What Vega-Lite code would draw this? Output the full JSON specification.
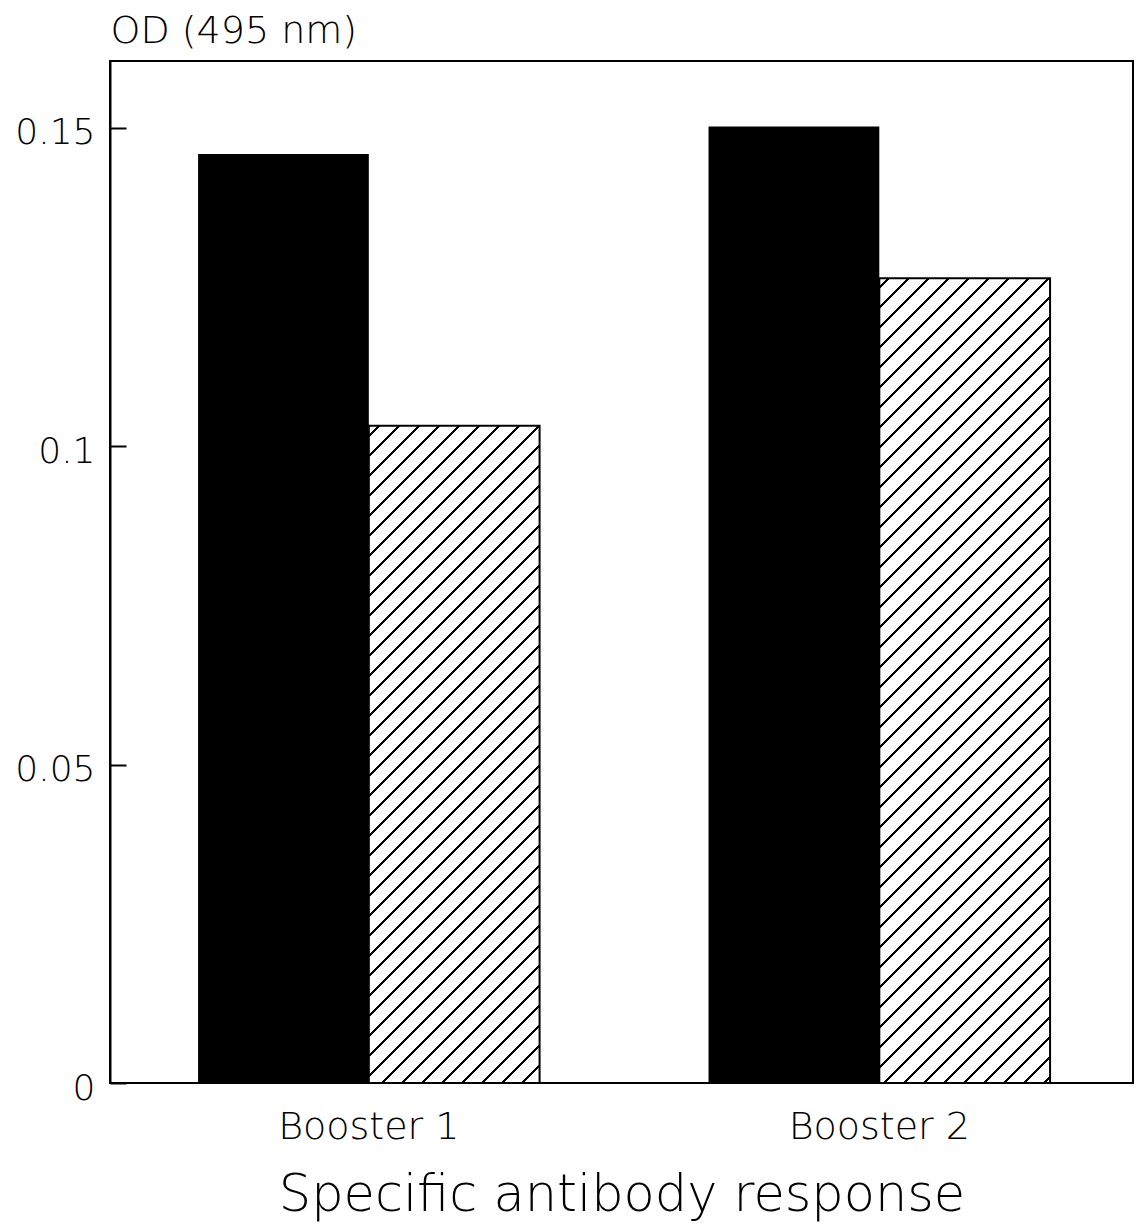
{
"$schema": "https://vega.github.io/schema/vega-lite/v6.json",
"autosize": {"type": "none"},
"padding": {"left": 110, "top": 61, "right": 5, "bottom": 145},
"width": 1023,
"height": 1022,
"background": "white",
"config": {
  "font": "DejaVu Sans",
  "view": {"stroke": "black", "strokeWidth": 2},
  "axis": {"labelColor": "black", "titleColor": "black", "domainColor": "black", "tickColor": "black", "labelFontWeight": 200, "titleFontWeight": 200, "grid": false, "labelLimit": 400, "titleLimit": 1000}
},
"data": {"values": [
  {"booster": "Booster 1", "group": "A", "od": 0.1459},
  {"booster": "Booster 1", "group": "B", "od": 0.1032},
  {"booster": "Booster 2", "group": "A", "od": 0.1502},
  {"booster": "Booster 2", "group": "B", "od": 0.1264}
]},
"encoding": {
  "x": {"field": "booster", "type": "nominal", "scale": {"paddingInner": 0.331, "paddingOuter": 0.1675, "align": 0.515},
    "axis": {"title": "Specific antibody response", "labelAngle": 0, "domain": false, "ticks": false, "labelFontSize": 38, "labelBaseline": "alphabetic", "labelPadding": 55, "titleFontSize": 51, "titleBaseline": "alphabetic", "titleY": 127}},
  "xOffset": {"field": "group", "type": "nominal", "scale": {"domain": ["A", "B"], "paddingInner": 0, "paddingOuter": 0}},
  "y": {"field": "od", "type": "quantitative", "scale": {"domain": [0, 0.1605], "nice": false},
    "axis": {"title": "OD (495 nm)", "values": [0, 0.05, 0.1, 0.15], "format": "~g", "domainWidth": 2, "tickWidth": 2, "tickSize": -16, "labelFontSize": 36, "labelPadding": 31, "labelOffset": 5, "titleFontSize": 38, "titleAngle": 0, "titleAlign": "left", "titleBaseline": "alphabetic", "titleX": 0, "titleY": -19}}
},
"layer": [
  {"transform": [{"filter": "datum.group === 'A'"}], "mark": {"type": "bar", "fill": "black"}},
  {"transform": [{"filter": "datum.group === 'B' && datum.booster === 'Booster 1'"}], "mark": {"type": "bar", "stroke": "black", "strokeWidth": 2,
    "fill": {"gradient": "linear", "x1": 0, "y1": 0, "x2": 0.37044, "y2": 1.42558, "stops": [
{"offset":0.0085,"color":"#fff"},{"offset":0.0085,"color":"#000"},{"offset":0.0115,"color":"#000"},{"offset":0.0115,"color":"#fff"},
{"offset":0.0285,"color":"#fff"},{"offset":0.0285,"color":"#000"},{"offset":0.0315,"color":"#000"},{"offset":0.0315,"color":"#fff"},
{"offset":0.0485,"color":"#fff"},{"offset":0.0485,"color":"#000"},{"offset":0.0515,"color":"#000"},{"offset":0.0515,"color":"#fff"},
{"offset":0.0685,"color":"#fff"},{"offset":0.0685,"color":"#000"},{"offset":0.0715,"color":"#000"},{"offset":0.0715,"color":"#fff"},
{"offset":0.0885,"color":"#fff"},{"offset":0.0885,"color":"#000"},{"offset":0.0915,"color":"#000"},{"offset":0.0915,"color":"#fff"},
{"offset":0.1085,"color":"#fff"},{"offset":0.1085,"color":"#000"},{"offset":0.1115,"color":"#000"},{"offset":0.1115,"color":"#fff"},
{"offset":0.1285,"color":"#fff"},{"offset":0.1285,"color":"#000"},{"offset":0.1315,"color":"#000"},{"offset":0.1315,"color":"#fff"},
{"offset":0.1485,"color":"#fff"},{"offset":0.1485,"color":"#000"},{"offset":0.1515,"color":"#000"},{"offset":0.1515,"color":"#fff"},
{"offset":0.1685,"color":"#fff"},{"offset":0.1685,"color":"#000"},{"offset":0.1715,"color":"#000"},{"offset":0.1715,"color":"#fff"},
{"offset":0.1885,"color":"#fff"},{"offset":0.1885,"color":"#000"},{"offset":0.1915,"color":"#000"},{"offset":0.1915,"color":"#fff"},
{"offset":0.2085,"color":"#fff"},{"offset":0.2085,"color":"#000"},{"offset":0.2115,"color":"#000"},{"offset":0.2115,"color":"#fff"},
{"offset":0.2285,"color":"#fff"},{"offset":0.2285,"color":"#000"},{"offset":0.2315,"color":"#000"},{"offset":0.2315,"color":"#fff"},
{"offset":0.2485,"color":"#fff"},{"offset":0.2485,"color":"#000"},{"offset":0.2515,"color":"#000"},{"offset":0.2515,"color":"#fff"},
{"offset":0.2685,"color":"#fff"},{"offset":0.2685,"color":"#000"},{"offset":0.2715,"color":"#000"},{"offset":0.2715,"color":"#fff"},
{"offset":0.2885,"color":"#fff"},{"offset":0.2885,"color":"#000"},{"offset":0.2915,"color":"#000"},{"offset":0.2915,"color":"#fff"},
{"offset":0.3085,"color":"#fff"},{"offset":0.3085,"color":"#000"},{"offset":0.3115,"color":"#000"},{"offset":0.3115,"color":"#fff"},
{"offset":0.3285,"color":"#fff"},{"offset":0.3285,"color":"#000"},{"offset":0.3315,"color":"#000"},{"offset":0.3315,"color":"#fff"},
{"offset":0.3485,"color":"#fff"},{"offset":0.3485,"color":"#000"},{"offset":0.3515,"color":"#000"},{"offset":0.3515,"color":"#fff"},
{"offset":0.3685,"color":"#fff"},{"offset":0.3685,"color":"#000"},{"offset":0.3715,"color":"#000"},{"offset":0.3715,"color":"#fff"},
{"offset":0.3885,"color":"#fff"},{"offset":0.3885,"color":"#000"},{"offset":0.3915,"color":"#000"},{"offset":0.3915,"color":"#fff"},
{"offset":0.4085,"color":"#fff"},{"offset":0.4085,"color":"#000"},{"offset":0.4115,"color":"#000"},{"offset":0.4115,"color":"#fff"},
{"offset":0.4285,"color":"#fff"},{"offset":0.4285,"color":"#000"},{"offset":0.4315,"color":"#000"},{"offset":0.4315,"color":"#fff"},
{"offset":0.4485,"color":"#fff"},{"offset":0.4485,"color":"#000"},{"offset":0.4515,"color":"#000"},{"offset":0.4515,"color":"#fff"},
{"offset":0.4685,"color":"#fff"},{"offset":0.4685,"color":"#000"},{"offset":0.4715,"color":"#000"},{"offset":0.4715,"color":"#fff"},
{"offset":0.4885,"color":"#fff"},{"offset":0.4885,"color":"#000"},{"offset":0.4915,"color":"#000"},{"offset":0.4915,"color":"#fff"},
{"offset":0.5085,"color":"#fff"},{"offset":0.5085,"color":"#000"},{"offset":0.5115,"color":"#000"},{"offset":0.5115,"color":"#fff"},
{"offset":0.5285,"color":"#fff"},{"offset":0.5285,"color":"#000"},{"offset":0.5315,"color":"#000"},{"offset":0.5315,"color":"#fff"},
{"offset":0.5485,"color":"#fff"},{"offset":0.5485,"color":"#000"},{"offset":0.5515,"color":"#000"},{"offset":0.5515,"color":"#fff"},
{"offset":0.5685,"color":"#fff"},{"offset":0.5685,"color":"#000"},{"offset":0.5715,"color":"#000"},{"offset":0.5715,"color":"#fff"},
{"offset":0.5885,"color":"#fff"},{"offset":0.5885,"color":"#000"},{"offset":0.5915,"color":"#000"},{"offset":0.5915,"color":"#fff"},
{"offset":0.6085,"color":"#fff"},{"offset":0.6085,"color":"#000"},{"offset":0.6115,"color":"#000"},{"offset":0.6115,"color":"#fff"},
{"offset":0.6285,"color":"#fff"},{"offset":0.6285,"color":"#000"},{"offset":0.6315,"color":"#000"},{"offset":0.6315,"color":"#fff"},
{"offset":0.6485,"color":"#fff"},{"offset":0.6485,"color":"#000"},{"offset":0.6515,"color":"#000"},{"offset":0.6515,"color":"#fff"},
{"offset":0.6685,"color":"#fff"},{"offset":0.6685,"color":"#000"},{"offset":0.6715,"color":"#000"},{"offset":0.6715,"color":"#fff"},
{"offset":0.6885,"color":"#fff"},{"offset":0.6885,"color":"#000"},{"offset":0.6915,"color":"#000"},{"offset":0.6915,"color":"#fff"},
{"offset":0.7085,"color":"#fff"},{"offset":0.7085,"color":"#000"},{"offset":0.7115,"color":"#000"},{"offset":0.7115,"color":"#fff"},
{"offset":0.7285,"color":"#fff"},{"offset":0.7285,"color":"#000"},{"offset":0.7315,"color":"#000"},{"offset":0.7315,"color":"#fff"},
{"offset":0.7485,"color":"#fff"},{"offset":0.7485,"color":"#000"},{"offset":0.7515,"color":"#000"},{"offset":0.7515,"color":"#fff"},
{"offset":0.7685,"color":"#fff"},{"offset":0.7685,"color":"#000"},{"offset":0.7715,"color":"#000"},{"offset":0.7715,"color":"#fff"},
{"offset":0.7885,"color":"#fff"},{"offset":0.7885,"color":"#000"},{"offset":0.7915,"color":"#000"},{"offset":0.7915,"color":"#fff"},
{"offset":0.8085,"color":"#fff"},{"offset":0.8085,"color":"#000"},{"offset":0.8115,"color":"#000"},{"offset":0.8115,"color":"#fff"},
{"offset":0.8285,"color":"#fff"},{"offset":0.8285,"color":"#000"},{"offset":0.8315,"color":"#000"},{"offset":0.8315,"color":"#fff"}
    ]}}},
  {"transform": [{"filter": "datum.group === 'B' && datum.booster === 'Booster 2'"}], "mark": {"type": "bar", "stroke": "black", "strokeWidth": 2,
    "fill": {"gradient": "linear", "x1": 0, "y1": 0, "x2": 0.25221, "y2": 1.18889, "stops": [
{"offset":0.0085,"color":"#fff"},{"offset":0.0085,"color":"#000"},{"offset":0.0115,"color":"#000"},{"offset":0.0115,"color":"#fff"},
{"offset":0.0285,"color":"#fff"},{"offset":0.0285,"color":"#000"},{"offset":0.0315,"color":"#000"},{"offset":0.0315,"color":"#fff"},
{"offset":0.0485,"color":"#fff"},{"offset":0.0485,"color":"#000"},{"offset":0.0515,"color":"#000"},{"offset":0.0515,"color":"#fff"},
{"offset":0.0685,"color":"#fff"},{"offset":0.0685,"color":"#000"},{"offset":0.0715,"color":"#000"},{"offset":0.0715,"color":"#fff"},
{"offset":0.0885,"color":"#fff"},{"offset":0.0885,"color":"#000"},{"offset":0.0915,"color":"#000"},{"offset":0.0915,"color":"#fff"},
{"offset":0.1085,"color":"#fff"},{"offset":0.1085,"color":"#000"},{"offset":0.1115,"color":"#000"},{"offset":0.1115,"color":"#fff"},
{"offset":0.1285,"color":"#fff"},{"offset":0.1285,"color":"#000"},{"offset":0.1315,"color":"#000"},{"offset":0.1315,"color":"#fff"},
{"offset":0.1485,"color":"#fff"},{"offset":0.1485,"color":"#000"},{"offset":0.1515,"color":"#000"},{"offset":0.1515,"color":"#fff"},
{"offset":0.1685,"color":"#fff"},{"offset":0.1685,"color":"#000"},{"offset":0.1715,"color":"#000"},{"offset":0.1715,"color":"#fff"},
{"offset":0.1885,"color":"#fff"},{"offset":0.1885,"color":"#000"},{"offset":0.1915,"color":"#000"},{"offset":0.1915,"color":"#fff"},
{"offset":0.2085,"color":"#fff"},{"offset":0.2085,"color":"#000"},{"offset":0.2115,"color":"#000"},{"offset":0.2115,"color":"#fff"},
{"offset":0.2285,"color":"#fff"},{"offset":0.2285,"color":"#000"},{"offset":0.2315,"color":"#000"},{"offset":0.2315,"color":"#fff"},
{"offset":0.2485,"color":"#fff"},{"offset":0.2485,"color":"#000"},{"offset":0.2515,"color":"#000"},{"offset":0.2515,"color":"#fff"},
{"offset":0.2685,"color":"#fff"},{"offset":0.2685,"color":"#000"},{"offset":0.2715,"color":"#000"},{"offset":0.2715,"color":"#fff"},
{"offset":0.2885,"color":"#fff"},{"offset":0.2885,"color":"#000"},{"offset":0.2915,"color":"#000"},{"offset":0.2915,"color":"#fff"},
{"offset":0.3085,"color":"#fff"},{"offset":0.3085,"color":"#000"},{"offset":0.3115,"color":"#000"},{"offset":0.3115,"color":"#fff"},
{"offset":0.3285,"color":"#fff"},{"offset":0.3285,"color":"#000"},{"offset":0.3315,"color":"#000"},{"offset":0.3315,"color":"#fff"},
{"offset":0.3485,"color":"#fff"},{"offset":0.3485,"color":"#000"},{"offset":0.3515,"color":"#000"},{"offset":0.3515,"color":"#fff"},
{"offset":0.3685,"color":"#fff"},{"offset":0.3685,"color":"#000"},{"offset":0.3715,"color":"#000"},{"offset":0.3715,"color":"#fff"},
{"offset":0.3885,"color":"#fff"},{"offset":0.3885,"color":"#000"},{"offset":0.3915,"color":"#000"},{"offset":0.3915,"color":"#fff"},
{"offset":0.4085,"color":"#fff"},{"offset":0.4085,"color":"#000"},{"offset":0.4115,"color":"#000"},{"offset":0.4115,"color":"#fff"},
{"offset":0.4285,"color":"#fff"},{"offset":0.4285,"color":"#000"},{"offset":0.4315,"color":"#000"},{"offset":0.4315,"color":"#fff"},
{"offset":0.4485,"color":"#fff"},{"offset":0.4485,"color":"#000"},{"offset":0.4515,"color":"#000"},{"offset":0.4515,"color":"#fff"},
{"offset":0.4685,"color":"#fff"},{"offset":0.4685,"color":"#000"},{"offset":0.4715,"color":"#000"},{"offset":0.4715,"color":"#fff"},
{"offset":0.4885,"color":"#fff"},{"offset":0.4885,"color":"#000"},{"offset":0.4915,"color":"#000"},{"offset":0.4915,"color":"#fff"},
{"offset":0.5085,"color":"#fff"},{"offset":0.5085,"color":"#000"},{"offset":0.5115,"color":"#000"},{"offset":0.5115,"color":"#fff"},
{"offset":0.5285,"color":"#fff"},{"offset":0.5285,"color":"#000"},{"offset":0.5315,"color":"#000"},{"offset":0.5315,"color":"#fff"},
{"offset":0.5485,"color":"#fff"},{"offset":0.5485,"color":"#000"},{"offset":0.5515,"color":"#000"},{"offset":0.5515,"color":"#fff"},
{"offset":0.5685,"color":"#fff"},{"offset":0.5685,"color":"#000"},{"offset":0.5715,"color":"#000"},{"offset":0.5715,"color":"#fff"},
{"offset":0.5885,"color":"#fff"},{"offset":0.5885,"color":"#000"},{"offset":0.5915,"color":"#000"},{"offset":0.5915,"color":"#fff"},
{"offset":0.6085,"color":"#fff"},{"offset":0.6085,"color":"#000"},{"offset":0.6115,"color":"#000"},{"offset":0.6115,"color":"#fff"},
{"offset":0.6285,"color":"#fff"},{"offset":0.6285,"color":"#000"},{"offset":0.6315,"color":"#000"},{"offset":0.6315,"color":"#fff"},
{"offset":0.6485,"color":"#fff"},{"offset":0.6485,"color":"#000"},{"offset":0.6515,"color":"#000"},{"offset":0.6515,"color":"#fff"},
{"offset":0.6685,"color":"#fff"},{"offset":0.6685,"color":"#000"},{"offset":0.6715,"color":"#000"},{"offset":0.6715,"color":"#fff"},
{"offset":0.6885,"color":"#fff"},{"offset":0.6885,"color":"#000"},{"offset":0.6915,"color":"#000"},{"offset":0.6915,"color":"#fff"},
{"offset":0.7085,"color":"#fff"},{"offset":0.7085,"color":"#000"},{"offset":0.7115,"color":"#000"},{"offset":0.7115,"color":"#fff"},
{"offset":0.7285,"color":"#fff"},{"offset":0.7285,"color":"#000"},{"offset":0.7315,"color":"#000"},{"offset":0.7315,"color":"#fff"},
{"offset":0.7485,"color":"#fff"},{"offset":0.7485,"color":"#000"},{"offset":0.7515,"color":"#000"},{"offset":0.7515,"color":"#fff"},
{"offset":0.7685,"color":"#fff"},{"offset":0.7685,"color":"#000"},{"offset":0.7715,"color":"#000"},{"offset":0.7715,"color":"#fff"},
{"offset":0.7885,"color":"#fff"},{"offset":0.7885,"color":"#000"},{"offset":0.7915,"color":"#000"},{"offset":0.7915,"color":"#fff"},
{"offset":0.8085,"color":"#fff"},{"offset":0.8085,"color":"#000"},{"offset":0.8115,"color":"#000"},{"offset":0.8115,"color":"#fff"},
{"offset":0.8285,"color":"#fff"},{"offset":0.8285,"color":"#000"},{"offset":0.8315,"color":"#000"},{"offset":0.8315,"color":"#fff"},
{"offset":0.8485,"color":"#fff"},{"offset":0.8485,"color":"#000"},{"offset":0.8515,"color":"#000"},{"offset":0.8515,"color":"#fff"},
{"offset":0.8685,"color":"#fff"},{"offset":0.8685,"color":"#000"},{"offset":0.8715,"color":"#000"},{"offset":0.8715,"color":"#fff"},
{"offset":0.8885,"color":"#fff"},{"offset":0.8885,"color":"#000"},{"offset":0.8915,"color":"#000"},{"offset":0.8915,"color":"#fff"},
{"offset":0.9085,"color":"#fff"},{"offset":0.9085,"color":"#000"},{"offset":0.9115,"color":"#000"},{"offset":0.9115,"color":"#fff"},
{"offset":0.9285,"color":"#fff"},{"offset":0.9285,"color":"#000"},{"offset":0.9315,"color":"#000"},{"offset":0.9315,"color":"#fff"},
{"offset":0.9485,"color":"#fff"},{"offset":0.9485,"color":"#000"},{"offset":0.9515,"color":"#000"},{"offset":0.9515,"color":"#fff"},
{"offset":0.9685,"color":"#fff"},{"offset":0.9685,"color":"#000"},{"offset":0.9715,"color":"#000"},{"offset":0.9715,"color":"#fff"}
    ]}}}
]
}
